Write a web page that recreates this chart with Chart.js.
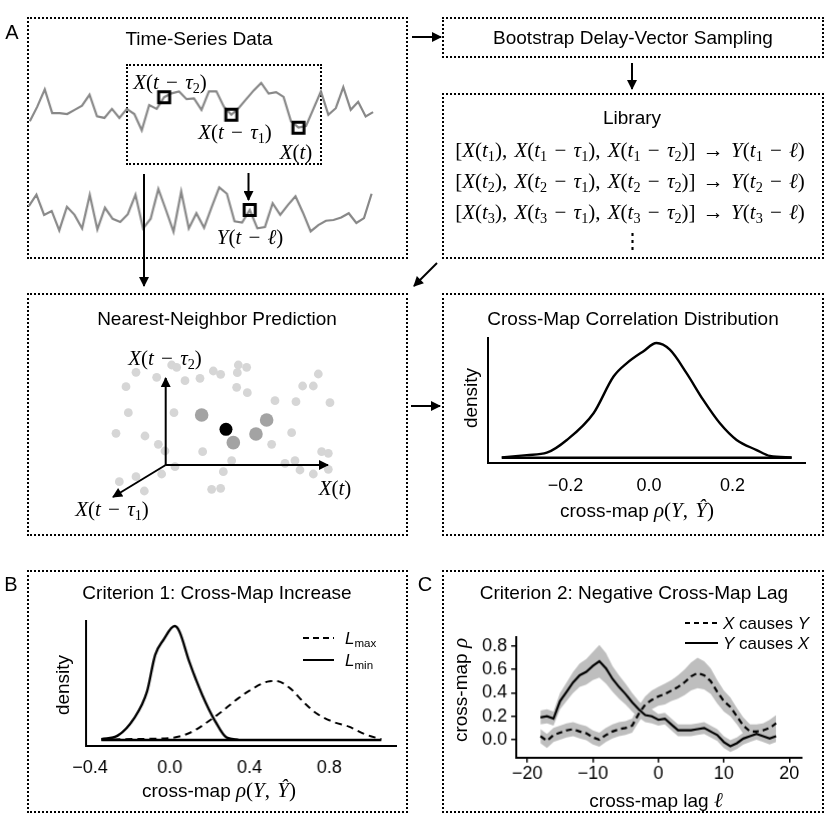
<!DOCTYPE html>
<html>
<head>
<meta charset="utf-8">
<script src="https://cdn.jsdelivr.net/npm/chart.js@4.4.0/dist/chart.umd.min.js"></script>
<style>
body { margin:0; width:830px; height:830px; position:relative; overflow:hidden; background:#fff;
       font-family:"Liberation Sans", Arial, sans-serif; color:#000; }
.box { position:absolute; border:2px dotted #000; box-sizing:border-box; }
.t { position:absolute; white-space:nowrap; font-size:19px; line-height:1; transform:translate(-50%,-50%); }
.l { position:absolute; white-space:nowrap; font-size:17px; line-height:1; transform:translate(0,-50%); }
.rot { transform:translate(-50%,-50%) rotate(-90deg); }
.m { font-family:"Liberation Serif","DejaVu Serif",serif; font-size:21px; word-spacing:2px; }
.m sub, .l sub { font-size:68%; vertical-align:-0.3em; line-height:0; }
.wrap { position:absolute; }
svg { position:absolute; left:0; top:0; }
</style>
</head>
<body>

<!-- panel frames -->
<div class="box" style="left:27px;top:17px;width:381px;height:242px"></div>
<div class="box" style="left:126px;top:64px;width:196px;height:101px"></div>
<div class="box" style="left:442px;top:17px;width:382px;height:41px"></div>
<div class="box" style="left:442px;top:93px;width:382px;height:166px"></div>
<div class="box" style="left:27px;top:293px;width:381px;height:243px"></div>
<div class="box" style="left:442px;top:293px;width:382px;height:243px"></div>
<div class="box" style="left:27px;top:570px;width:381px;height:243px"></div>
<div class="box" style="left:442px;top:570px;width:382px;height:243px"></div>

<div id="charts"></div>

<svg width="830" height="830">
  <defs>
    <marker id="ah" viewBox="0 0 10 10" refX="9" refY="5" markerWidth="12" markerHeight="10"
            markerUnits="userSpaceOnUse" orient="auto">
      <path d="M0,0 L10,5 L0,10 z" fill="#000"/>
    </marker>
  </defs>
  <g stroke="#000" stroke-width="2" fill="none">
    <line x1="412" y1="37" x2="441" y2="37" marker-end="url(#ah)"/>
    <line x1="632" y1="63" x2="632" y2="89" marker-end="url(#ah)"/>
    <line x1="437" y1="263" x2="414" y2="286" marker-end="url(#ah)"/>
    <line x1="144" y1="174" x2="144" y2="286" marker-end="url(#ah)"/>
    <line x1="248.5" y1="173" x2="248.5" y2="200" marker-end="url(#ah)"/>
    <line x1="411" y1="406" x2="440" y2="406" marker-end="url(#ah)"/>
    <line x1="165.7" y1="465" x2="165.7" y2="378" marker-end="url(#ah)"/>
    <line x1="165.7" y1="465" x2="328" y2="465" marker-end="url(#ah)"/>
    <line x1="165.7" y1="465" x2="113" y2="497" marker-end="url(#ah)"/>
    <!-- legends -->
    <line x1="303" y1="638" x2="334" y2="638" stroke-dasharray="6,4"/>
    <line x1="303" y1="660" x2="334" y2="660"/>
    <line x1="685" y1="623" x2="718" y2="623" stroke-dasharray="5,4"/>
    <line x1="685" y1="643" x2="718" y2="643"/>
  </g>
</svg>

<!-- text -->
<div class="t" style="left:12px;top:32px;font-size:20px">A</div>
<div class="t" style="left:11px;top:584px;font-size:20px">B</div>
<div class="t" style="left:425px;top:584px;font-size:20px">C</div>

<div class="t" style="left:199px;top:38px">Time-Series Data</div>
<div class="t" style="left:633px;top:37px">Bootstrap Delay-Vector Sampling</div>
<div class="t" style="left:632px;top:117px">Library</div>
<div class="t" style="left:217px;top:318px">Nearest-Neighbor Prediction</div>
<div class="t" style="left:633px;top:318px">Cross-Map Correlation Distribution</div>
<div class="t" style="left:217px;top:592px">Criterion 1: Cross-Map Increase</div>
<div class="t" style="left:634px;top:592px">Criterion 2: Negative Cross-Map Lag</div>

<div class="t m" style="left:170px;top:82px"><i>X</i>(<i>t</i> − <i>τ</i><sub>2</sub>)</div>
<div class="t m" style="left:235px;top:132px"><i>X</i>(<i>t</i> − <i>τ</i><sub>1</sub>)</div>
<div class="t m" style="left:296px;top:152px"><i>X</i>(<i>t</i>)</div>
<div class="t m" style="left:250px;top:237px"><i>Y</i>(<i>t</i> − <i>ℓ</i>)</div>

<div class="t m" style="left:630px;top:150px">[<i>X</i>(<i>t</i><sub>1</sub>), <i>X</i>(<i>t</i><sub>1</sub> − <i>τ</i><sub>1</sub>), <i>X</i>(<i>t</i><sub>1</sub> − <i>τ</i><sub>2</sub>)] → <i>Y</i>(<i>t</i><sub>1</sub> − <i>ℓ</i>)</div>
<div class="t m" style="left:630px;top:181px">[<i>X</i>(<i>t</i><sub>2</sub>), <i>X</i>(<i>t</i><sub>2</sub> − <i>τ</i><sub>1</sub>), <i>X</i>(<i>t</i><sub>2</sub> − <i>τ</i><sub>2</sub>)] → <i>Y</i>(<i>t</i><sub>2</sub> − <i>ℓ</i>)</div>
<div class="t m" style="left:630px;top:212px">[<i>X</i>(<i>t</i><sub>3</sub>), <i>X</i>(<i>t</i><sub>3</sub> − <i>τ</i><sub>1</sub>), <i>X</i>(<i>t</i><sub>3</sub> − <i>τ</i><sub>2</sub>)] → <i>Y</i>(<i>t</i><sub>3</sub> − <i>ℓ</i>)</div>
<div class="t m" style="left:632px;top:241px">⋮</div>

<div class="t m" style="left:165px;top:358px"><i>X</i>(<i>t</i> − <i>τ</i><sub>2</sub>)</div>
<div class="t m" style="left:335px;top:488px"><i>X</i>(<i>t</i>)</div>
<div class="t m" style="left:112px;top:509px"><i>X</i>(<i>t</i> − <i>τ</i><sub>1</sub>)</div>

<div class="t rot" style="left:470px;top:398px">density</div>
<div class="t" style="left:637px;top:510px">cross-map <span class="m"><i>ρ</i>(<i>Y</i>, <i>Ŷ</i>)</span></div>

<div class="t rot" style="left:62px;top:685px">density</div>
<div class="t" style="left:219px;top:790px">cross-map <span class="m"><i>ρ</i>(<i>Y</i>, <i>Ŷ</i>)</span></div>
<div class="l" style="left:345px;top:638px"><i>L</i><sub>max</sub></div>
<div class="l" style="left:345px;top:660px"><i>L</i><sub>min</sub></div>

<div class="t rot" style="left:460px;top:690px">cross-map <span class="m"><i>ρ</i></span></div>
<div class="t" style="left:656px;top:800px">cross-map lag <span class="m"><i>ℓ</i></span></div>
<div class="l" style="left:723px;top:623px"><i>X</i> causes <i>Y</i></div>
<div class="l" style="left:723px;top:643px"><i>Y</i> causes <i>X</i></div>

<script>
// time series (arbitrary units), one value per time step
const seriesX = [1.33, 2.83, 4.6, 2.17, 2.17, 2.07, 2.5, 2.93, 4.07, 1.83, 1.67, 2.6, 1.67, 2.6, 2.07, 0.4,
  3.0, 2.6, 3.8, 4.2, 4.4, 3.6, 3.67, 2.5, 4.4, 4.4, 2.83, 2.0, 2.7, 3.6, 4.5, 5.27, 4.17, 4.33, 3.83,
  1.33, 0.67, 0.83, 2.6, 4.4, 2.0, 2.67, 4.83, 2.5, 3.33, 1.83, 2.27];
const markedX = [18, 27, 36];
const seriesY = [3.4, 4.57, 2.5, 2.9, 0.9, 3.33, 2.5, 1.1, 4.57, 1.0, 3.23, 2.1, 1.77, 2.57, 4.57, 1.1,
  2.1, 5.17, 3.0, 0.77, 4.9, 1.1, 2.67, 1.17, 3.3, 5.33, 4.67, 1.83, 1.7, 3.0, 1.12, 1.25, 3.7, 2.5,
  3.5, 4.4, 2.7, 0.8, 1.45, 1.9, 1.97, 2.23, 2.67, 1.67, 2.17, 4.67];
const markedY = [29];

// delay-embedding cloud (projected coordinates)
const cloudU = [10.8, 7.8, 17, 21.5, 23, 25.5, 30, 34, 36.2, 41.5, 44, 41.2, 41, 44.2, 65.5, 60.8, 64,
  52.5, 58.8, 69, 8.5, 22.2, 4.8, 13.5, 17.5, 19.5, 30.8, 57.5, 51.5, 39.5, 37, 33.5, 36.2, 22.5, 18.5,
  10.8, 5.8, 13.3, 55.5, 58.5, 60, 64, 66.5, 68.5, 68.5];
const cloudW = [41.3, 37, 39.8, 43.5, 42.8, 38.8, 39.5, 41.7, 40.7, 43.5, 42.8, 41.2, 36.8, 35.2, 40.8,
  37.2, 37.2, 32.8, 32.5, 32.2, 29.2, 29.2, 23, 22.2, 19.7, 17.7, 17.5, 23.2, 19.7, 14.8, 11.5, 6.2, 6.5,
  13, 10.8, 10, 8.5, 5.7, 14, 14.8, 12, 10.8, 17.5, 17, 12.2];
const nearU = [30.5, 40, 46.8, 50];
const nearW = [28.5, 20.2, 22.8, 27];
const targetU = [37.8];
const targetW = [24.2];

// cross-map correlation distribution
const cmRho = [-0.353, -0.293, -0.245, -0.197, -0.133, -0.085, -0.053, -0.014, 0.018, 0.05, 0.09, 0.13,
  0.17, 0.21, 0.258, 0.29, 0.342];
const cmDens = [0.003, 0.023, 0.044, 0.155, 0.388, 0.708, 0.825, 0.927, 1.0, 0.942, 0.738, 0.504, 0.3,
  0.155, 0.067, 0.015, 0.003];
const cmTicks = [-0.2, 0, 0.2];

// criterion 1
const minRho = [-0.343, -0.261, -0.179, -0.114, -0.073, -0.032, 0.025, 0.049, 0.098, 0.163, 0.229, 0.286, 0.343];
const minDens = [0.006, 0.038, 0.19, 0.424, 0.746, 0.877, 1.0, 0.95, 0.687, 0.395, 0.161, 0.02, 0.003];
const maxRho = [-0.343, -0.147, 0.017, 0.114, 0.18, 0.261, 0.343, 0.424, 0.49, 0.531, 0.604, 0.669, 0.735,
  0.816, 0.898, 0.979, 1.061];
const maxDens = [0.003, 0.009, 0.02, 0.073, 0.146, 0.249, 0.365, 0.459, 0.512, 0.518, 0.453, 0.336, 0.234,
  0.161, 0.117, 0.05, 0.006];
const bTicks = [-0.4, 0, 0.4, 0.8];

// criterion 2
const lags = [-18, -17, -16, -15, -14, -13, -12, -11, -10, -9, -8, -7, -6, -5, -4, -3, -2, -1, 0,
  1, 2, 3, 4, 5, 6, 7, 8, 9, 10, 11, 12, 13, 14, 15, 16, 17, 18];
const yCausesX = [0.19, 0.2, 0.18, 0.33, 0.41, 0.49, 0.55, 0.58, 0.63, 0.67, 0.61, 0.52, 0.45, 0.39, 0.32,
  0.26, 0.21, 0.2, 0.17, 0.18, 0.13, 0.08, 0.08, 0.08, 0.09, 0.1, 0.07, 0.04, -0.02, -0.055, -0.03, 0.01,
  0.03, 0.05, 0.03, 0.01, 0.03];
const yCausesXSpread = [0.06, 0.06, 0.06, 0.07, 0.08, 0.09, 0.1, 0.11, 0.12, 0.14, 0.13, 0.11, 0.1, 0.09,
  0.08, 0.07, 0.06, 0.06, 0.05, 0.05, 0.05, 0.05, 0.05, 0.05, 0.05, 0.05, 0.05, 0.05, 0.05, 0.05, 0.05,
  0.05, 0.05, 0.05, 0.05, 0.05, 0.05];
const xCausesY = [0.03, -0.01, 0.04, 0.06, 0.08, 0.09, 0.07, 0.055, 0.02, 0.0, 0.04, 0.07, 0.09, 0.1, 0.12,
  0.22, 0.3, 0.34, 0.37, 0.39, 0.42, 0.45, 0.49, 0.54, 0.57, 0.55, 0.5, 0.41, 0.33, 0.28, 0.2, 0.12, 0.07,
  0.07, 0.08, 0.1, 0.14];
const xCausesYSpread = [0.06, 0.06, 0.06, 0.06, 0.06, 0.06, 0.06, 0.06, 0.06, 0.06, 0.06, 0.06, 0.06, 0.06,
  0.06, 0.07, 0.07, 0.08, 0.08, 0.09, 0.09, 0.1, 0.11, 0.12, 0.13, 0.12, 0.11, 0.1, 0.09, 0.08, 0.07, 0.07,
  0.06, 0.06, 0.06, 0.07, 0.07];
const lagTicks = [-20, -10, 0, 10, 20];
const rhoTicks = [0, 0.2, 0.4, 0.6, 0.8];

Chart.defaults.font.family = '"Liberation Sans", Arial, sans-serif';
Chart.defaults.font.size = 18;
Chart.defaults.color = '#000';
Chart.defaults.animation = false;
Chart.defaults.events = [];
Chart.defaults.plugins.legend.display = false;
Chart.defaults.plugins.tooltip.enabled = false;

const PAD = 10;

// put a canvas so that its plot area lands on [left, top, width, height]
function makeChart(area, axisW, axisH, config) {
  const wrap = document.createElement('div');
  wrap.className = 'wrap';
  wrap.style.left = (area[0] - PAD - axisW) + 'px';
  wrap.style.top = (area[1] - PAD) + 'px';
  wrap.style.width = (area[2] + 2 * PAD + axisW) + 'px';
  wrap.style.height = (area[3] + 2 * PAD + axisH) + 'px';
  const cv = document.createElement('canvas');
  wrap.appendChild(cv);
  document.getElementById('charts').appendChild(wrap);
  config.options.responsive = true;
  config.options.maintainAspectRatio = false;
  config.options.layout = { padding: PAD };
  return new Chart(cv, config);
}

const pts = (xs, ys) => xs.map((x, i) => ({ x: x, y: ys[i] }));
const idx = arr => arr.map((v, i) => ({ x: i, y: v }));
const fmt = v => (v < 0 ? '\u2212' : '') + Math.abs(v).toFixed(1);
const fixTicks = list => s => { s.ticks = list.map(v => ({ value: v })); };

function seriesChart(area, values, marked) {
  return makeChart(area, 0, 0, {
    type: 'line',
    data: { datasets: [
      { data: marked.map(i => ({ x: i, y: values[i] })), showLine: false, pointStyle: 'rect',
        pointRadius: 7.8, pointBorderWidth: 3, pointBorderColor: '#000',
        pointBackgroundColor: 'rgba(0,0,0,0)', clip: false },
      { data: idx(values), borderColor: '#888', borderWidth: 2.2, pointRadius: 0, tension: 0, clip: false }
    ] },
    options: { scales: {
      x: { type: 'linear', min: 0, max: values.length - 1, display: false },
      y: { min: 0, max: 6, display: false }
    } }
  });
}

seriesChart([29.3, 75, 343.9, 60], seriesX, markedX);
seriesChart([28.3, 180, 343.4, 60], seriesY, markedY);

// nearest-neighbour cloud
makeChart([100, 360, 233.3, 150], 0, 0, {
  type: 'scatter',
  data: { datasets: [
    { data: pts(targetU, targetW), pointRadius: 6.5, pointBackgroundColor: '#000', pointBorderWidth: 0, clip: false },
    { data: pts(nearU, nearW), pointRadius: 6.8, pointBackgroundColor: '#a3a3a3', pointBorderWidth: 0, clip: false },
    { data: pts(cloudU, cloudW), pointRadius: 4.4, pointBackgroundColor: '#d6d6d6', pointBorderWidth: 0, clip: false }
  ] },
  options: { scales: {
    x: { type: 'linear', min: 0, max: 70, display: false },
    y: { min: 0, max: 45, display: false }
  } }
});

function densityScales(xmin, xmax, ymin, ymax, ticks, labelPad, axisW, axisH) {
  return {
    x: { type: 'linear', min: xmin, max: xmax,
         afterBuildTicks: fixTicks(ticks), afterFit: s => { s.height = axisH; },
         grid: { display: false }, border: { color: '#000', width: 2 },
         ticks: { padding: labelPad, maxRotation: 0, callback: fmt } },
    y: { min: ymin, max: ymax, afterFit: s => { s.width = axisW; },
         grid: { display: false }, border: { color: '#000', width: 2 }, ticks: { display: false } }
  };
}

// cross-map distribution
makeChart([488, 338, 317, 125], 0, 40, {
  type: 'line',
  data: { datasets: [
    { data: pts(cmRho, cmDens), borderColor: '#000', borderWidth: 2.4, pointRadius: 0,
      cubicInterpolationMode: 'monotone' },
    { data: [{ x: cmRho[0], y: 0 }, { x: cmRho[cmRho.length - 1], y: 0 }], borderColor: '#000',
      borderWidth: 2.4, pointRadius: 0 }
  ] },
  options: { scales: densityScales(-0.386, 0.374, -0.046, 1.044, cmTicks, 4, 0, 40) }
});

// criterion 1
makeChart([79, 621, 316.7, 125], 0, 40, {
  type: 'line',
  data: { datasets: [
    { data: pts(minRho, minDens), borderColor: '#000', borderWidth: 2.4, pointRadius: 0,
      cubicInterpolationMode: 'monotone' },
    { data: pts(maxRho, maxDens), borderColor: '#000', borderWidth: 2, borderDash: [7, 5], pointRadius: 0,
      cubicInterpolationMode: 'monotone' },
    { data: [{ x: minRho[0], y: 0 }, { x: maxRho[maxRho.length - 1], y: 0 }], borderColor: '#000',
      borderWidth: 2.4, pointRadius: 0 }
  ] },
  options: { scales: densityScales(-0.42, 1.138, -0.053, 1.044, bTicks, 3, 0, 40) }
});

// criterion 2
const band = (m, s, sign) => m.map((v, i) => ({ x: lags[i], y: v + sign * s[i] }));
makeChart([516, 632, 284.7, 124.7], 60, 30, {
  type: 'line',
  data: { datasets: [
    { data: pts(lags, xCausesY), borderColor: '#000', borderWidth: 2.2, borderDash: [6, 4], pointRadius: 0, order: 0 },
    { data: pts(lags, yCausesX), borderColor: '#000', borderWidth: 2.2, pointRadius: 0, order: 0 },
    { data: band(yCausesX, yCausesXSpread, 1), borderWidth: 0, pointRadius: 0, fill: '+1',
      backgroundColor: '#bebebe', order: 1 },
    { data: band(yCausesX, yCausesXSpread, -1), borderWidth: 0, pointRadius: 0, order: 1 },
    { data: band(xCausesY, xCausesYSpread, 1), borderWidth: 0, pointRadius: 0, fill: '+1',
      backgroundColor: '#bebebe', order: 1 },
    { data: band(xCausesY, xCausesYSpread, -1), borderWidth: 0, pointRadius: 0, order: 1 }
  ] },
  options: { scales: {
    x: { type: 'linear', min: -21.7, max: 21.9, afterBuildTicks: fixTicks(lagTicks),
         afterFit: s => { s.height = 30; },
         grid: { drawOnChartArea: false, tickLength: 5, color: '#000', lineWidth: 1.5 },
         border: { color: '#000', width: 2 },
         ticks: { padding: 1, maxRotation: 0, callback: v => (v < 0 ? '\u2212' : '') + Math.abs(v) } },
    y: { min: -0.152, max: 0.878, afterBuildTicks: fixTicks(rhoTicks),
         afterFit: s => { s.width = 60; },
         grid: { drawOnChartArea: false, tickLength: 5, color: '#000', lineWidth: 1.5 },
         border: { color: '#000', width: 2 },
         ticks: { padding: 4, callback: fmt } }
  } }
});
</script>
</body>
</html>
